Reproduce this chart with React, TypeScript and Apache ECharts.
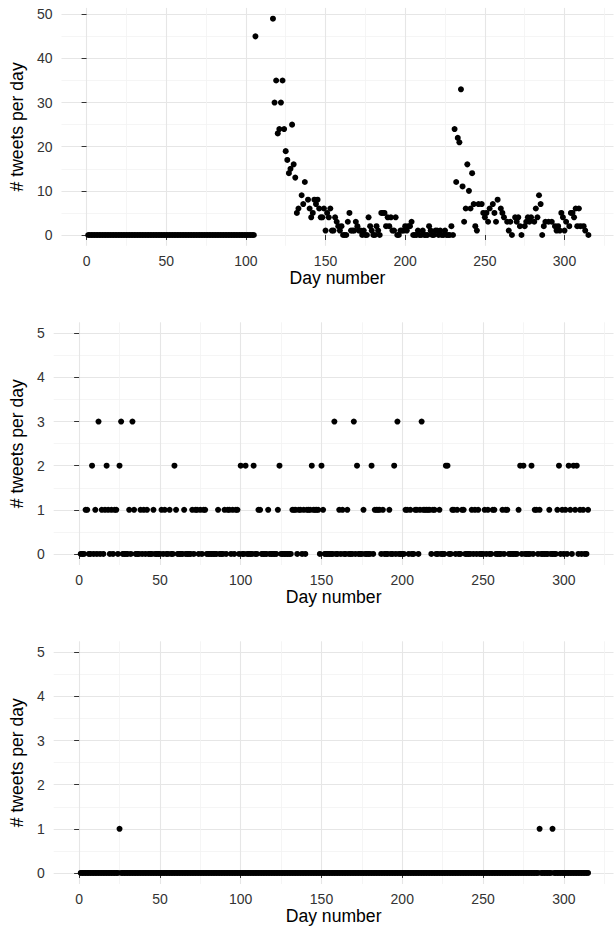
import React, { useEffect, useRef } from "react";
import * as echarts from "echarts";

// ---------- data ----------
const FIRST_DAY = 1;
const LAST_DAY = 315;

const X_MAJOR = [0, 50, 100, 150, 200, 250, 300];
const X_MINOR = [25, 75, 125, 175, 225, 275, 325];
const P1_Y_MAJOR = [0, 10, 20, 30, 40, 50];
const P1_Y_MINOR = [5, 15, 25, 35, 45];
const P23_Y_MAJOR = [0, 1, 2, 3, 4, 5];
const P23_Y_MINOR = [0.5, 1.5, 2.5, 3.5, 4.5];

// Panel 1: days 1..105 are all zero
const P1_QUIET_LAST_DAY = 105;
const P1_SPIKE1: [number, number][] = [
  [106, 45], [117, 49], [118, 30], [119, 35], [120, 23], [121, 24], [122, 30], [123, 35],
  [124, 24], [125, 19], [126, 17], [127, 14], [128, 15], [129, 25], [130, 16], [131, 13],
  [132, 5], [133, 6], [135, 9], [136, 7], [137, 12], [139, 8], [140, 6], [141, 4],
  [142, 5], [143, 8], [144, 7], [145, 8], [146, 6], [147, 4], [148, 4], [149, 6],
  [150, 1], [151, 5], [152, 4], [153, 6], [154, 1], [155, 1], [156, 4], [157, 3],
  [158, 2], [159, 1], [160, 2],
];
const P1_LULL: [number, number][] = [
  [161, 0], [162, 0], [163, 0], [164, 3], [165, 5], [166, 1], [167, 1], [168, 1],
  [169, 3], [170, 2], [171, 1], [172, 1], [173, 0], [174, 1], [175, 0], [176, 0],
  [177, 4], [178, 2], [179, 1], [180, 0], [181, 0], [182, 2], [183, 1], [184, 0],
  [185, 5], [186, 5], [187, 5], [188, 2], [189, 4], [190, 2], [191, 4], [192, 1],
  [193, 1], [194, 4], [195, 0], [196, 0], [197, 1], [198, 1], [199, 1], [200, 2],
  [201, 1], [202, 2], [203, 2], [204, 3], [205, 0], [206, 0], [207, 0], [208, 1],
  [209, 0], [210, 0], [211, 1], [212, 0], [213, 0], [214, 0], [215, 2], [216, 1],
  [217, 0], [218, 0], [219, 1], [220, 1], [221, 0], [222, 1], [223, 0], [224, 0],
  [225, 1], [226, 0], [227, 0], [228, 0], [229, 2], [230, 0],
];
const P1_SPIKE2: [number, number][] = [
  [231, 24], [232, 12], [233, 22], [234, 21], [235, 33], [236, 11], [237, 3], [238, 6],
  [239, 16], [240, 10], [241, 6], [242, 14], [243, 7], [244, 2], [245, 1], [246, 7],
  [248, 7], [249, 5], [250, 4], [251, 5], [252, 3], [253, 6], [255, 7], [256, 5],
  [257, 3], [258, 8], [260, 6], [261, 5], [262, 4], [264, 3], [265, 1], [266, 3],
  [267, 0], [269, 4], [270, 3], [271, 4], [272, 2], [273, 0], [275, 2], [276, 3],
  [277, 4], [278, 3], [279, 4], [281, 3], [282, 6], [283, 4], [284, 9], [285, 7],
  [286, 0], [287, 2], [288, 3], [290, 3], [292, 3], [294, 2], [295, 1], [296, 2],
  [297, 1], [298, 5], [299, 4], [300, 1], [301, 3], [303, 2], [304, 5], [305, 5],
  [306, 4], [307, 6], [308, 2], [309, 6], [310, 2], [312, 2], [313, 1], [315, 0],
];

// Panel 2: non-zero days (all other days are 0)
const P2_THREES = [12, 26, 33, 158, 170, 197, 212];
const P2_TWOS = [8, 17, 25, 59, 100, 103, 108, 124, 144, 150, 172, 181, 195, 227, 228, 273, 275, 280, 297, 303, 306, 308];
const P2_ONES = [
  4, 5, 10, 14, 16, 18, 20, 22, 23, 31, 34, 38, 40, 42, 46, 51, 53, 56, 60, 65,
  70, 72, 73, 75, 77, 78, 86, 90, 92, 93, 95, 97, 98, 111, 112, 117, 123,
  132, 133, 134, 136, 137, 139, 141, 142, 143, 145, 146, 147, 148, 151,
  161, 163, 166, 176, 183, 184, 185, 186, 188, 192, 202, 203, 205, 208, 209, 211,
  213, 214, 215, 216, 217, 219, 220, 223, 231, 232, 234, 237, 238, 243, 245, 247,
  251, 253, 256, 257, 262, 264, 265, 272, 282, 283, 285, 291, 296, 299, 301, 304,
  307, 310, 312, 315,
];

// Panel 3: non-zero days (all other days are 0)
const P3_ONES = [25, 285, 293];

// ---------- helpers ----------
function dailySeries(levels: [number[], number][]): [number, number][] {
  const map: Record<number, number> = {};
  levels.forEach(([days, v]) => days.forEach((d) => (map[d] = v)));
  const out: [number, number][] = [];
  for (let d = FIRST_DAY; d <= LAST_DAY; d++) out.push([d, map[d] ?? 0]);
  return out;
}

function panel1Series(): [number, number][] {
  const out: [number, number][] = [];
  for (let d = FIRST_DAY; d <= P1_QUIET_LAST_DAY; d++) out.push([d, 0]);
  return out.concat(P1_SPIKE1, P1_LULL, P1_SPIKE2);
}

const FONT = "'Liberation Sans', Arial, Helvetica, sans-serif";
const X_MIN = -15.75;
const X_MAX = 330.75;

const GRIDS = [
  { left: 57.9, top: 7.9, width: 555.6, height: 237.9 },
  { left: 49.7, top: 322.3, width: 563.8, height: 242.7 },
  { left: 49.7, top: 641.3, width: 563.8, height: 243.1 },
];

const MAJOR_LINE = { color: "#e6e6e6", width: 1.1 };
const MINOR_LINE = { color: "#f3f3f3", width: 0.8 };
const TICK_LINE = { color: "#333333", width: 1 };

function xAxes(g: number) {
  return [
    {
      type: "value", gridIndex: g, min: X_MIN, max: X_MAX, position: "bottom",
      name: "Day number", nameLocation: "middle", nameGap: 23,
      nameTextStyle: { fontFamily: FONT, fontSize: 17.6, color: "#000" },
      axisLine: { show: false },
      axisTick: { show: true, length: 5, customValues: X_MAJOR, lineStyle: TICK_LINE },
      axisLabel: { customValues: X_MAJOR, margin: 8, fontFamily: FONT, fontSize: 14, color: "#333" },
      splitLine: { show: true, lineStyle: MAJOR_LINE },
    },
    {
      type: "value", gridIndex: g, min: X_MIN, max: X_MAX, position: "bottom",
      axisLine: { show: false },
      axisTick: { show: false, customValues: X_MINOR },
      axisLabel: { show: false, customValues: X_MINOR },
      splitLine: { show: true, lineStyle: MINOR_LINE },
    },
  ];
}

function yAxes(g: number, min: number, max: number, major: number[], minor: number[], gap: number) {
  return [
    {
      type: "value", gridIndex: g, min, max, position: "left",
      name: "# tweets per day", nameLocation: "middle", nameGap: gap,
      nameTextStyle: { fontFamily: FONT, fontSize: 17.6, color: "#000" },
      axisLine: { show: false },
      axisTick: { show: true, length: 5, customValues: major, lineStyle: TICK_LINE },
      axisLabel: { customValues: major, margin: 9, fontFamily: FONT, fontSize: 14, color: "#333" },
      splitLine: { show: true, lineStyle: MAJOR_LINE },
    },
    {
      type: "value", gridIndex: g, min, max, position: "right",
      axisLine: { show: false },
      axisTick: { show: false, customValues: minor },
      axisLabel: { show: false, customValues: minor },
      splitLine: { show: true, lineStyle: MINOR_LINE },
    },
  ];
}

export default function App() {
  const ref = useRef<HTMLDivElement>(null);
  useEffect(() => {
    if (!ref.current) return;
    const chart = echarts.init(ref.current, undefined, { renderer: "svg" });
    const p1 = panel1Series();
    const p2 = dailySeries([[P2_ONES, 1], [P2_TWOS, 2], [P2_THREES, 3]]);
    const p3 = dailySeries([[P3_ONES, 1]]);
    const scatter = (g: number, data: [number, number][]) => ({
      type: "scatter", xAxisIndex: 2 * g, yAxisIndex: 2 * g, data,
      symbolSize: 6, itemStyle: { color: "#000", opacity: 1 }, silent: true,
    });
    chart.setOption({
      animation: false,
      backgroundColor: "#ffffff",
      grid: GRIDS.map((r) => ({ ...r, containLabel: false })),
      xAxis: [...xAxes(0), ...xAxes(1), ...xAxes(2)],
      yAxis: [
        ...yAxes(0, -2.45, 51.45, P1_Y_MAJOR, P1_Y_MINOR, 29),
        ...yAxes(1, -0.25, 5.25, P23_Y_MAJOR, P23_Y_MINOR, 21),
        ...yAxes(2, -0.25, 5.25, P23_Y_MAJOR, P23_Y_MINOR, 21),
      ],
      series: [scatter(0, p1), scatter(1, p2), scatter(2, p3)],
    });
    return () => chart.dispose();
  }, []);
  return (
    <div
      ref={ref}
      style={{ position: "absolute", left: 0, top: 0, width: 616, height: 926, background: "#fff" }}
    />
  );
}
